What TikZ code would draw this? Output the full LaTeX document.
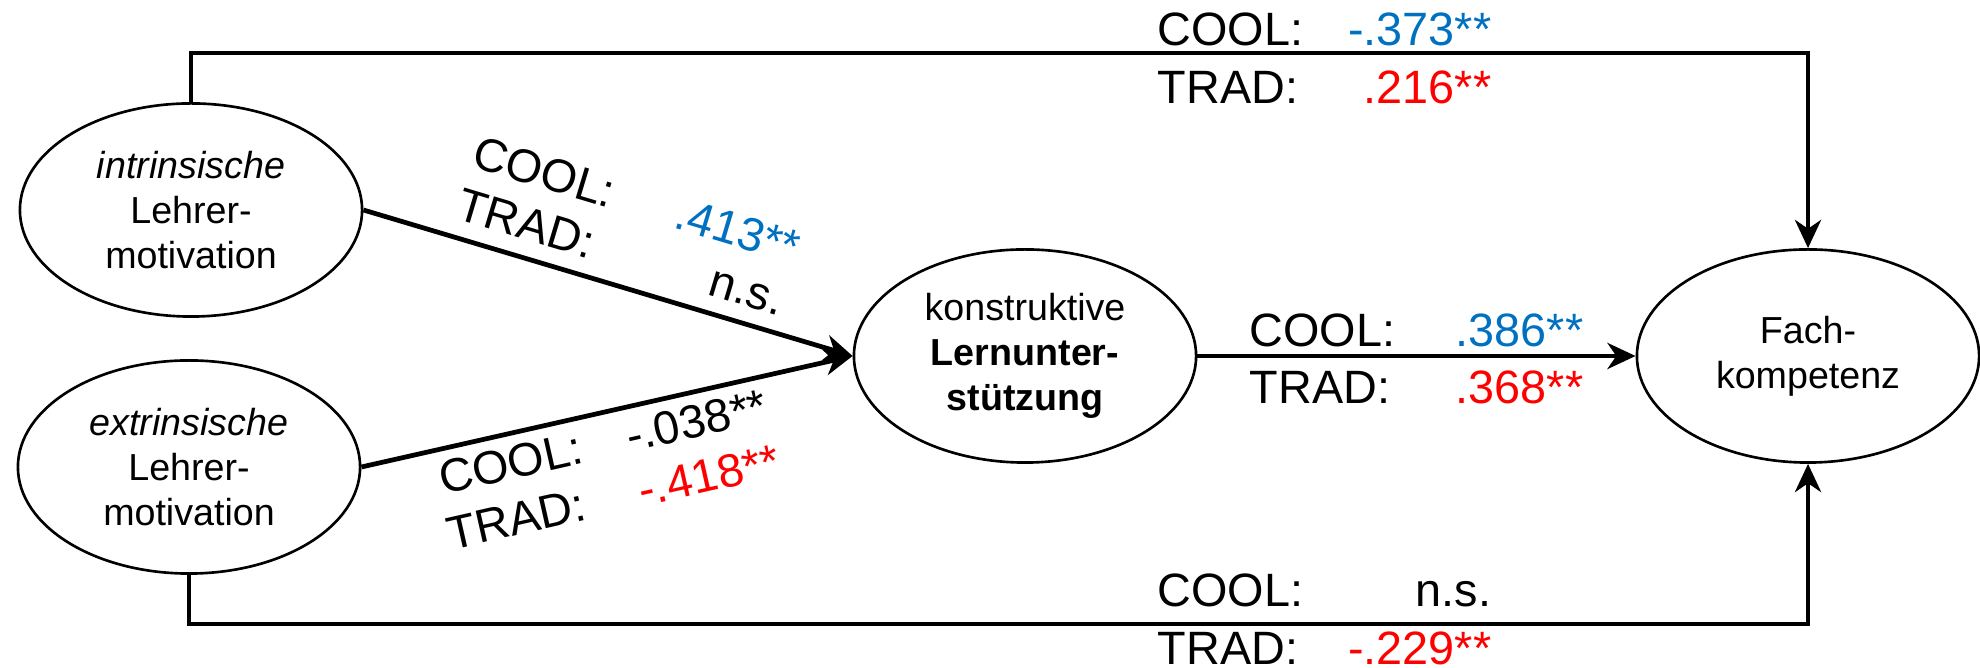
\documentclass[tikz,border=0pt]{standalone}
\usepackage{fontspec}
\setmainfont{Liberation Sans}
\usetikzlibrary{arrows.meta,shapes.geometric}
\definecolor{cblue}{RGB}{0,112,192}
\definecolor{cred}{RGB}{255,0,0}
\begin{document}
\begin{tikzpicture}[x=0.01cm, y=-0.01cm,
  var/.style={ellipse, draw, line width=0.75pt, minimum width=3.42cm, minimum height=2.13cm,
    inner sep=0pt, align=center, font=\fontsize{10.7}{12.8}\selectfont},
  conn/.style={line width=1.35pt},
  arr/.style={conn, -{Stealth[length=8pt, width=7.4pt, inset=2.5pt]}},
  lab/.style={inner sep=0pt, font=\fontsize{13.3}{16}\selectfont},
  lw/.style={lab, anchor=base west},
  le/.style={lab, anchor=base east}]
\useasboundingbox (0,0) rectangle (1980,668);

\node[var] (E1) at (191,210) {\textit{intrinsische}\\Lehrer-\\motivation};
\node[var] (E2) at (189,467) {\textit{extrinsische}\\Lehrer-\\motivation};
\node[var] (E3) at (1025,356) {konstruktive\\\textbf{Lernunter-}\\\textbf{stützung}};
\node[var] (E4) at (1808,356) {Fach-\\kompetenz};

\draw[arr] (E1.north) -- ++(0,-49) -| (E4.north);
\draw[arr] (E2.south) -- ++(0,49) -| (E4.south);
\draw[arr] (E1.east) -- (E3.west);
\draw[arr] (E2.east) -- (E3.west);
\draw[arr] (E3.east) -- (E4.west);

% top labels
\node[lw] (tc) at (1157,46) {COOL:};
\node[le, text=cblue] (tcv) at (1492,46) {-.373**};
\node[lw] (tt) at (1157,104) {TRAD:};
\node[le, text=cred] (ttv) at (1492,104) {.216**};

% middle labels
\node[lw] (mc) at (1249,347) {COOL:};
\node[le, text=cblue] (mcv) at (1584,347) {.386**};
\node[lw] (mt) at (1249,404) {TRAD:};
\node[le, text=cred] (mtv) at (1584,404) {.368**};

% bottom labels
\node[lw] (bc) at (1157,607) {COOL:};
\node[le] (bcv) at (1492,607) {n.s.};
\node[lw] (bt) at (1157,665) {TRAD:};
\node[le, text=cred] (btv) at (1492,665) {-.229**};

% upper diagonal labels
\begin{scope}[shift={(E1.east)}, rotate=-16.7, transform shape]
  \node[lw] (uc) at (89,-72) {COOL:};
  \node[le, text=cblue] (ucv) at (429,-72) {.413**};
  \node[lw] (ut) at (89,-18) {TRAD:};
  \node[le] (utv) at (429,-18) {n.s.};
\end{scope}

% lower diagonal labels
\begin{scope}[shift={(E2.east)}, rotate=12.75, transform shape]
  \node[lw] (lc) at (73,45) {COOL:};
  \node[le] (lcv) at (409,45) {-.038**};
  \node[lw] (lt) at (69,101) {TRAD:};
  \node[le, text=cred] (ltv) at (409,101) {-.418**};
\end{scope}
\end{tikzpicture}
\end{document}
